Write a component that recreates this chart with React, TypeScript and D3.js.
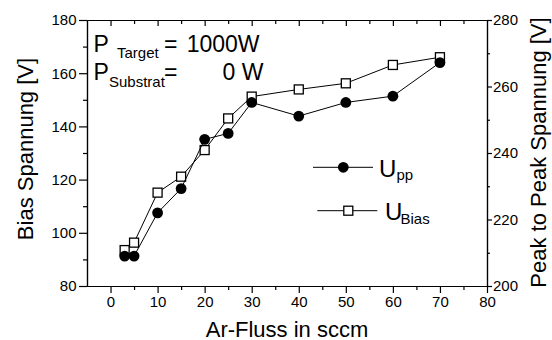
import React, { useEffect, useRef } from "react";
import * as d3 from "d3";

// Ar flow (sccm) and the two measured voltages
const flow = [3, 5, 10, 15, 20, 25, 30, 40, 50, 60, 70];
const uBias = [93.5, 96.3, 115.1, 121.1, 131.1, 143.0, 151.2, 153.9, 156.2, 163.1, 166.0];
const uPP = [209.0, 209.0, 222.0, 229.3, 244.1, 245.9, 255.2, 251.1, 255.2, 257.1, 267.2];

const xMajor = [0, 10, 20, 30, 40, 50, 60, 70, 80];
const xMinor = [5, 15, 25, 35, 45, 55, 65, 75];
const yLeftMajor = [80, 100, 120, 140, 160, 180];
const yLeftMinor = [90, 110, 130, 150, 170];
const yRightMajor = [200, 220, 240, 260, 280];
const yRightMinor = [210, 230, 250, 270];

const W = 552;
const H = 340;
const FONT = "'Liberation Sans', Arial, sans-serif";

export default function App() {
  const ref = useRef<SVGSVGElement>(null);

  useEffect(() => {
    const svg = d3.select(ref.current);
    svg.selectAll("*").remove();

    const left = 87, right = 487, top = 20, bottom = 286;
    const x = d3.scaleLinear().domain([-5, 80]).range([left, right]);
    const yL = d3.scaleLinear().domain([80, 180]).range([bottom, top]);
    const yR = d3.scaleLinear().domain([200, 280]).range([bottom, top]);

    const styleAxis = (g: any) => {
      g.selectAll("path.domain").attr("stroke", "#000").attr("stroke-width", 1.2);
      g.selectAll(".tick line").attr("stroke", "#000").attr("stroke-width", 1.2);
      g.selectAll("text").attr("fill", "#000").attr("font-family", FONT).attr("font-size", 15);
    };

    // bottom axis
    const gB = svg.append("g").attr("transform", `translate(0,${bottom})`);
    gB.call(d3.axisBottom(x).tickValues(xMajor).tickSize(7).tickSizeOuter(0).tickPadding(3.5).tickFormat(d3.format("d")));
    styleAxis(gB);
    const gBm = svg.append("g").attr("transform", `translate(0,${bottom})`);
    gBm.call(d3.axisBottom(x).tickValues(xMinor).tickSize(4).tickSizeOuter(0).tickFormat(() => ""));
    styleAxis(gBm);

    // top axis, ticks pointing inward
    const gT = svg.append("g").attr("transform", `translate(0,${top})`);
    gT.call(d3.axisTop(x).tickValues(xMajor.slice(0, -1)).tickSize(-6).tickSizeOuter(0).tickFormat(() => ""));
    styleAxis(gT);
    const gTm = svg.append("g").attr("transform", `translate(0,${top})`);
    gTm.call(d3.axisTop(x).tickValues(xMinor).tickSize(-4).tickSizeOuter(0).tickFormat(() => ""));
    styleAxis(gTm);

    // left axis
    const gL = svg.append("g").attr("transform", `translate(${left},0)`);
    gL.call(d3.axisLeft(yL).tickValues(yLeftMajor).tickSize(8).tickSizeOuter(0).tickPadding(2.5).tickFormat(d3.format("d")));
    styleAxis(gL);
    const gLm = svg.append("g").attr("transform", `translate(${left},0)`);
    gLm.call(d3.axisLeft(yL).tickValues(yLeftMinor).tickSize(4).tickSizeOuter(0).tickFormat(() => ""));
    styleAxis(gLm);

    // right axis
    const gR = svg.append("g").attr("transform", `translate(${right},0)`);
    gR.call(d3.axisRight(yR).tickValues(yRightMajor).tickSize(5).tickSizeOuter(0).tickPadding(1).tickFormat(d3.format("d")));
    styleAxis(gR);
    const gRm = svg.append("g").attr("transform", `translate(${right},0)`);
    gRm.call(d3.axisRight(yR).tickValues(yRightMinor).tickSize(3).tickSizeOuter(0).tickFormat(() => ""));
    styleAxis(gRm);

    // axis titles
    const title = (g: any) => g.attr("font-family", FONT).attr("font-size", 22).attr("fill", "#000");
    svg.append("text").call(title)
      .attr("x", (left + right) / 2).attr("y", 336.5).attr("text-anchor", "middle").text("Ar-Fluss in sccm");
    svg.append("text").call(title)
      .attr("transform", `translate(33,149) rotate(-90)`).attr("text-anchor", "middle").text("Bias Spannung [V]");
    svg.append("text").call(title)
      .attr("transform", `translate(545.5,152.5) rotate(-90)`).attr("text-anchor", "middle").text("Peak to Peak Spannung [V]");

    // series: U_Bias (left axis, open squares), U_pp (right axis, filled circles)
    const lineBias = d3.line<number>().x((_, i) => x(flow[i])).y((d) => yL(d));
    const linePP = d3.line<number>().x((_, i) => x(flow[i])).y((d) => yR(d));

    svg.append("path").attr("d", lineBias(uBias)).attr("fill", "none").attr("stroke", "#000").attr("stroke-width", 1);
    const sq = 9;
    svg.append("g").selectAll("rect").data(uBias).join("rect")
      .attr("x", (_, i) => x(flow[i]) - sq / 2).attr("y", (d) => yL(d) - sq / 2)
      .attr("width", sq).attr("height", sq)
      .attr("fill", "#fff").attr("stroke", "#000").attr("stroke-width", 1.3);

    svg.append("path").attr("d", linePP(uPP)).attr("fill", "none").attr("stroke", "#000").attr("stroke-width", 1);
    svg.append("g").selectAll("circle").data(uPP).join("circle")
      .attr("cx", (_, i) => x(flow[i])).attr("cy", (d) => yR(d)).attr("r", 5.4).attr("fill", "#000");

    // annotation
    const ann = svg.append("g").attr("font-family", FONT).attr("fill", "#000");
    ann.append("text").attr("x", 93.5).attr("y", 51.7).attr("font-size", 23).text("P");
    ann.append("text").attr("x", 117).attr("y", 58.3).attr("font-size", 15).text("Target");
    ann.append("text").attr("x", 164).attr("y", 51.7).attr("font-size", 23).text("=");
    ann.append("text").attr("x", 259.5).attr("y", 51.7).attr("font-size", 23).attr("text-anchor", "end").text("1000W");
    ann.append("text").attr("x", 93.5).attr("y", 80).attr("font-size", 23).text("P");
    ann.append("text").attr("x", 109).attr("y", 87.3).attr("font-size", 15).text("Substrat");
    ann.append("text").attr("x", 164).attr("y", 80).attr("font-size", 23).text("=");
    ann.append("text").attr("x", 263.5).attr("y", 80).attr("font-size", 23).attr("text-anchor", "end").text("0 W");

    // legend
    const leg = svg.append("g").attr("font-family", FONT).attr("fill", "#000");
    leg.append("line").attr("x1", 313).attr("x2", 373).attr("y1", 167.3).attr("y2", 167.3).attr("stroke", "#000").attr("stroke-width", 1);
    leg.append("circle").attr("cx", 343.3).attr("cy", 167.3).attr("r", 5.4).attr("fill", "#000");
    leg.append("text").attr("x", 379).attr("y", 177).attr("font-size", 24).text("U");
    leg.append("text").attr("x", 396.5).attr("y", 180.2).attr("font-size", 15).text("pp");

    leg.append("line").attr("x1", 317.3).attr("x2", 377.3).attr("y1", 210.7).attr("y2", 210.7).attr("stroke", "#000").attr("stroke-width", 1);
    leg.append("rect").attr("x", 348.3 - sq / 2).attr("y", 210.7 - sq / 2).attr("width", sq).attr("height", sq)
      .attr("fill", "#fff").attr("stroke", "#000").attr("stroke-width", 1.3);
    leg.append("text").attr("x", 385).attr("y", 220).attr("font-size", 24).text("U");
    leg.append("text").attr("x", 400.5).attr("y", 224).attr("font-size", 15).text("Bias");
  }, []);

  return (
    <div style={{ position: "absolute", left: 0, top: 0, width: W, height: H, background: "#fff" }}>
      <svg ref={ref} width={W} height={H} style={{ display: "block" }} />
    </div>
  );
}
